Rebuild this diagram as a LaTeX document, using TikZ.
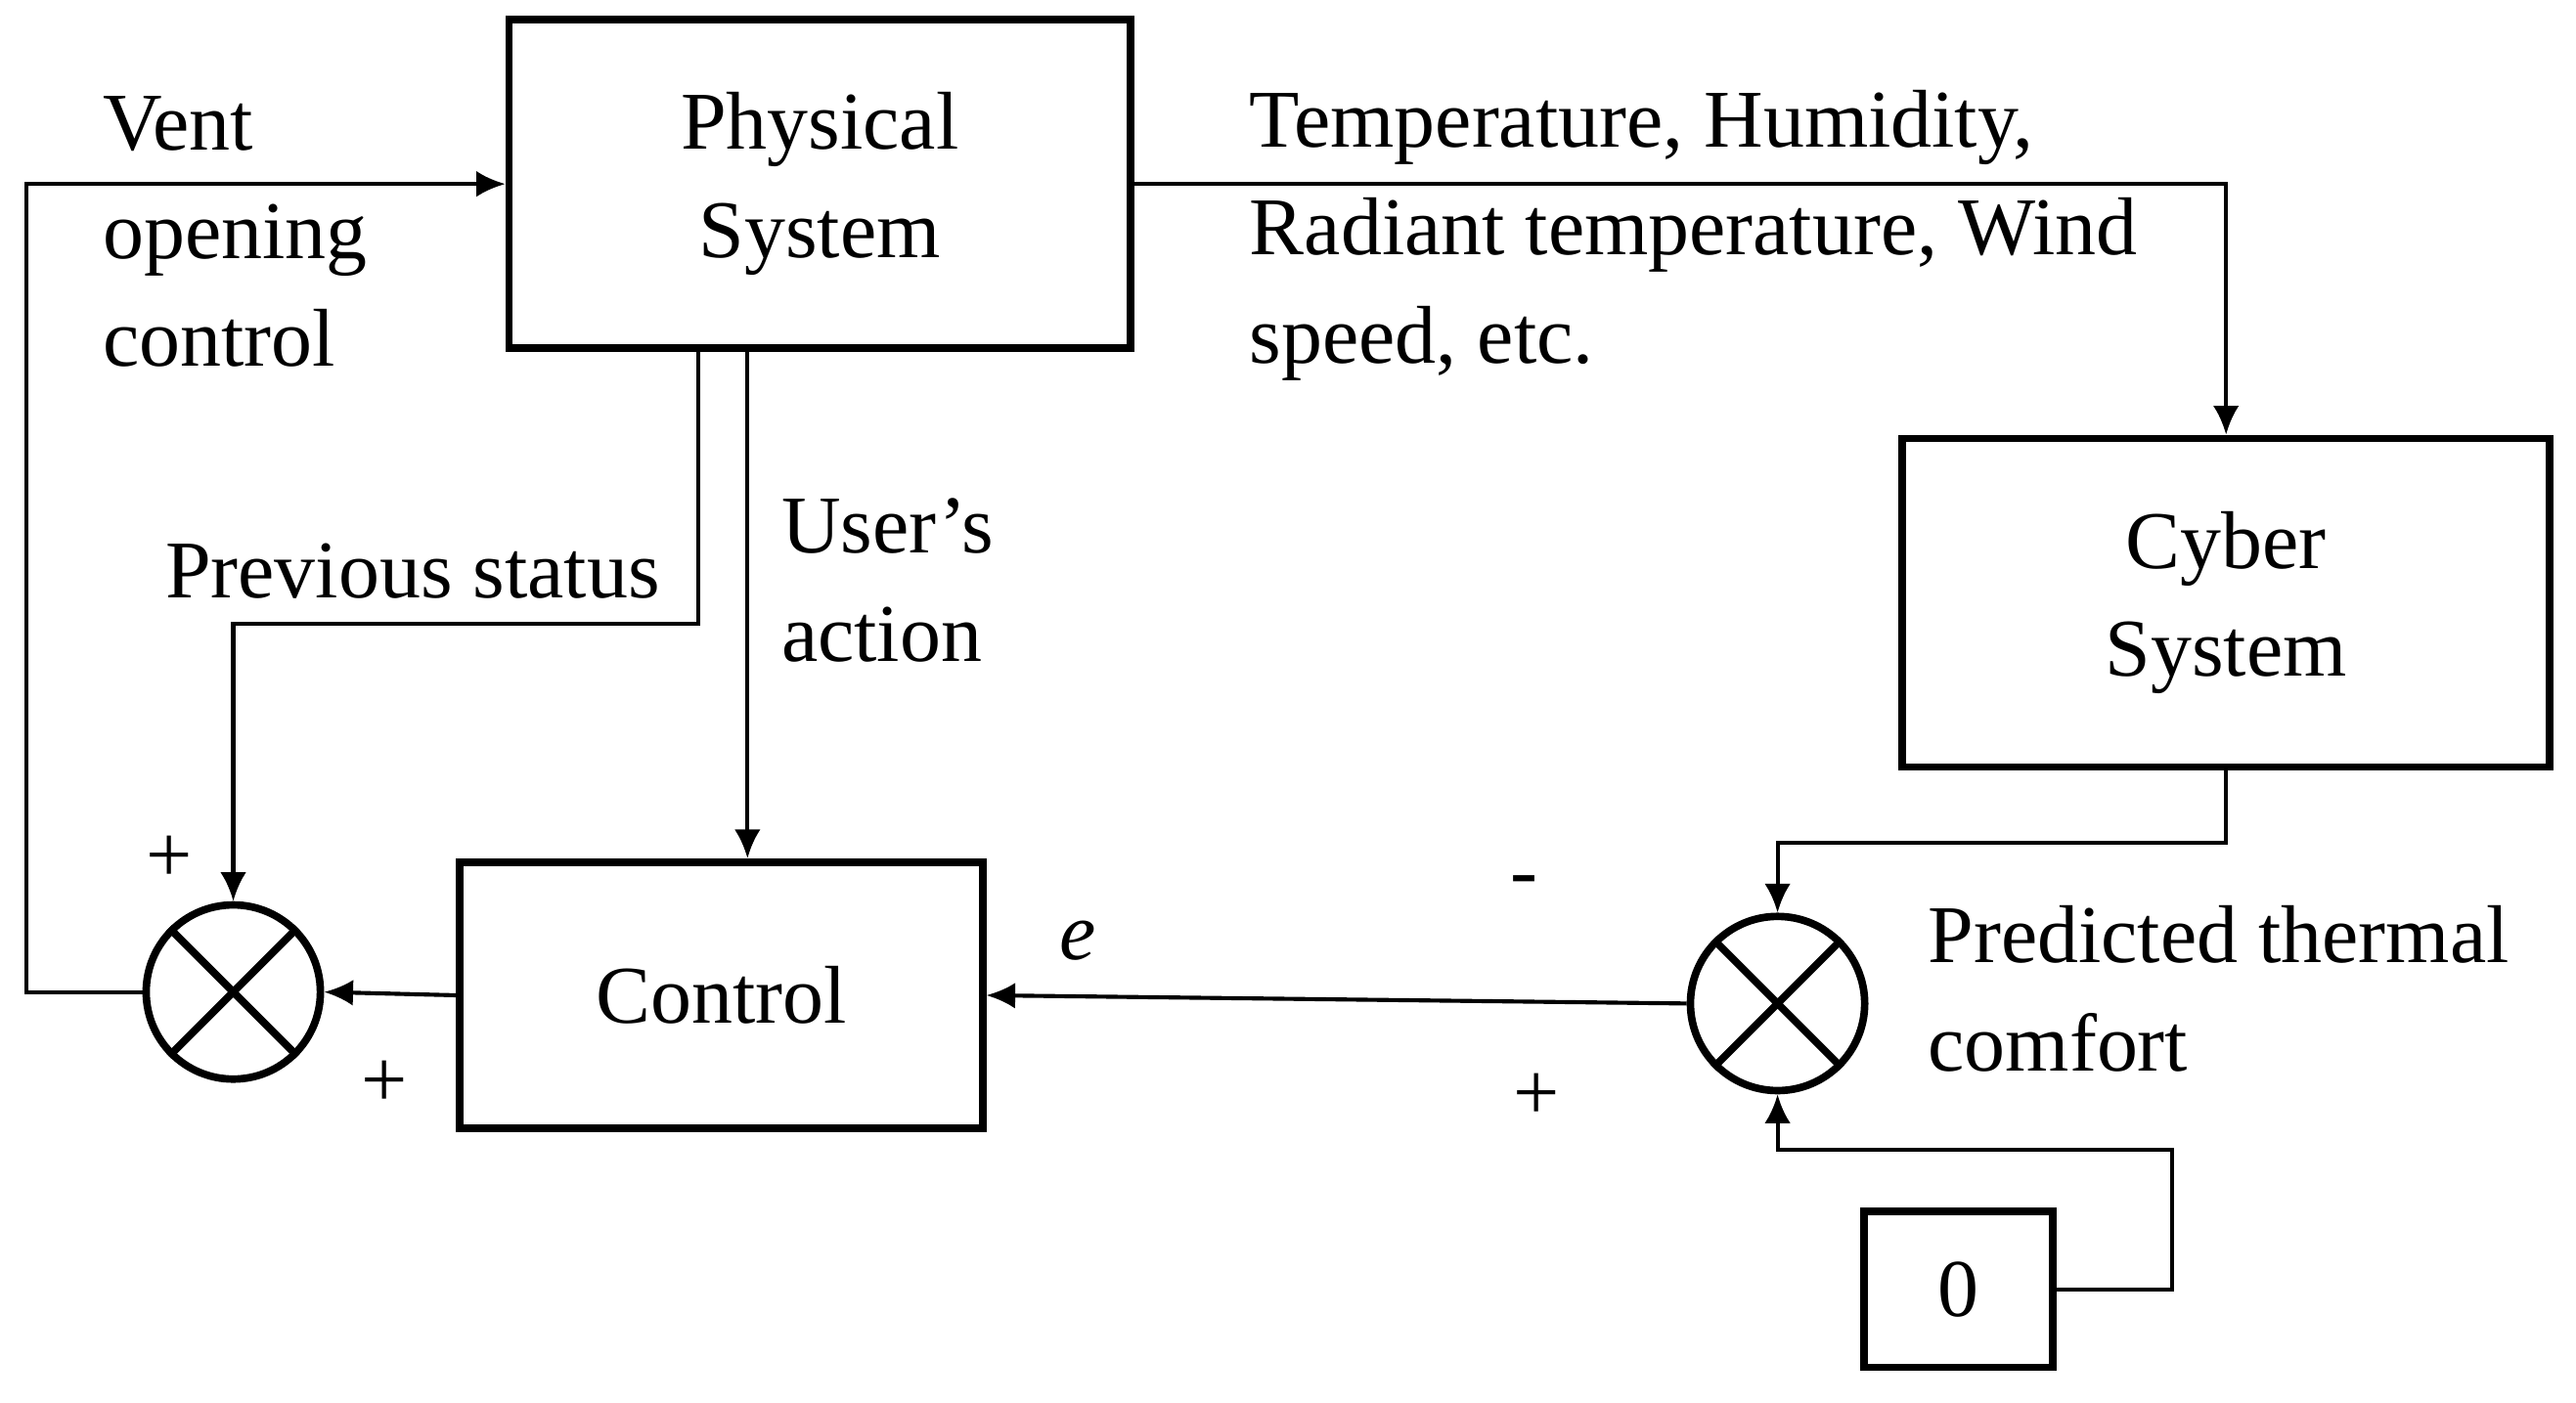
\documentclass[tikz,border=0pt]{standalone}
\usepackage{fontspec}
\usetikzlibrary{arrows.meta}
\setmainfont{Liberation Serif}
\begin{document}
\begin{tikzpicture}[x=0.01cm,y=-0.01cm,
 box/.style={draw,line width=1.3pt,inner sep=0pt,align=center,font=\fontsize{14.2}{18.7}\selectfont},
 sum/.style={draw,circle,line width=1.3pt,minimum size=1.06cm,inner sep=0pt},
 conn/.style={line width=0.7pt,-{Latex[length=5pt,width=4.5pt]}},
 lbl/.style={inner sep=0pt,align=left,font=\fontsize{14.2}{18.7}\selectfont,anchor=west}]
\useasboundingbox (0,0) rectangle (1568,854);
\node[box,minimum width=3.78cm,minimum height=2cm] (phys) at (499,112) {Physical\\System};
\node[box,minimum width=3.94cm,minimum height=2cm] (cyber) at (1355,367) {Cyber\\System};
\node[box,minimum width=3.18cm,minimum height=1.62cm] (ctrl) at (439,606) {Control};
\node[box,minimum width=1.15cm,minimum height=0.95cm] (zero) at (1192,785) {0};
\node[sum] (s1) at (142,604) {};
\node[sum] (s2) at (1082,611) {};
\foreach \s in {s1,s2}{
 \draw[line width=1.3pt] (\s.north east)--(\s.south west) (\s.north west)--(\s.south east);}
\coordinate (v1) at (16,604); \coordinate (v2) at (16,112);
\draw[conn] (s1.west) -- (v1) -- (v2) -- (phys.west);
\coordinate (o1) at (1355,112);
\draw[conn] (phys.east) -- (o1) -- (cyber.north);
\coordinate (c1) at (1355,513); \coordinate (c2) at (1082,513);
\draw[conn] (cyber.south) -- (c1) -- (c2) -- (s2.north);
\coordinate (z1) at (1322,785); \coordinate (z2) at (1322,700); \coordinate (z3) at (1082,700);
\draw[conn] (zero.east) -- (z1) -- (z2) -- (z3) -- (s2.south);
\draw[conn] (s2.west) -- (ctrl.east);
\draw[conn] (ctrl.west) -- (s1.east);
\coordinate (p0) at (425,212); \coordinate (p1) at (425,380); \coordinate (p2) at (142,380);
\draw[conn] (p0) -- (p1) -- (p2) -- (s1.north);
\coordinate (u0) at (455,212);
\draw[conn] (u0) -- (ctrl.north -| u0);
\node[lbl,anchor=north west] (t1) at (62,58) {Vent\\opening\\control};
\node[lbl,anchor=north west] (t2) at (760,54) {Temperature, Humidity,\\Radiant temperature, Wind\\speed, etc.};
\node[lbl] (t3) at (100,348) {Previous status};
\node[lbl,anchor=north west] (t4) at (475,303) {User's\\action};
\node[lbl,anchor=north west] (t5) at (1173,551) {Predicted thermal\\comfort};
\node[lbl,anchor=center] (g1) at (103,523) {+};
\node[lbl,anchor=center] (g2) at (234,660) {+};
\node[lbl,anchor=center] (g3) at (928,540) {-};
\node[lbl,anchor=center] (g4) at (935,668) {+};
\node[lbl,anchor=center] (e) at (656,573) {\itshape e};
\end{tikzpicture}
\end{document}
